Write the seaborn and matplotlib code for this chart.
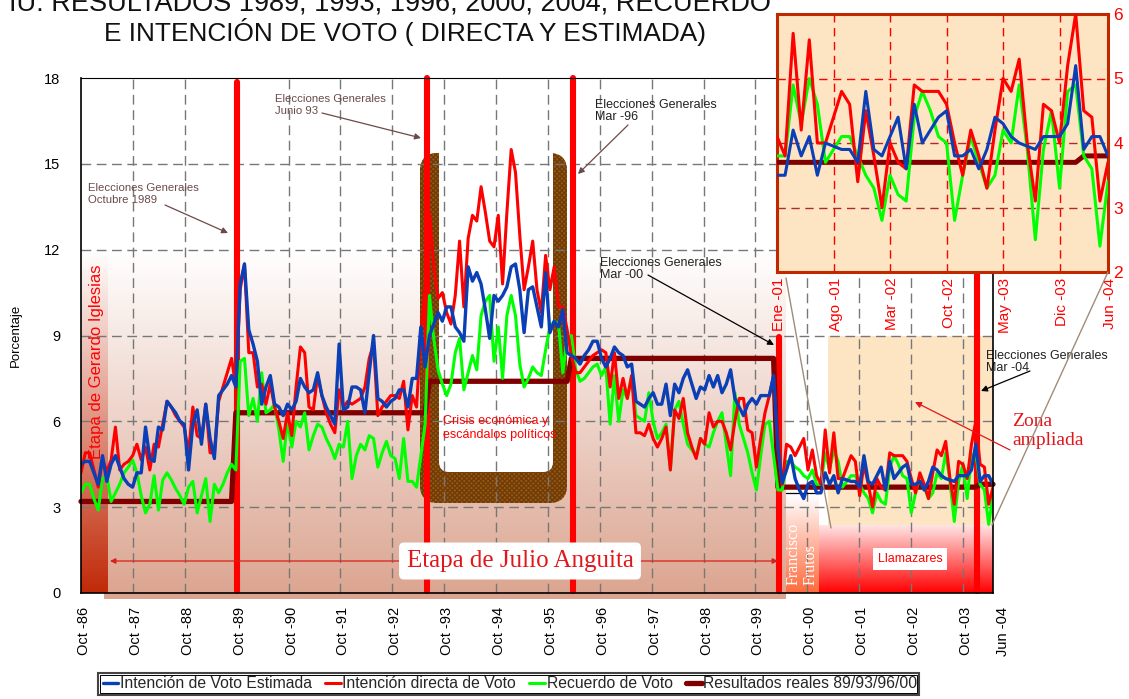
import matplotlib
matplotlib.use("Agg")

import numpy as np
import pandas as pd
import matplotlib.pyplot as plt
import matplotlib.transforms as mtransforms
import seaborn as sns
from matplotlib.colors import LinearSegmentedColormap
from matplotlib.lines import Line2D
from matplotlib.patches import FancyBboxPatch, Rectangle

# monthly readings, Oct-86 to Dec-00
estimada_hist = [
    4.5, 4.6, 4.6, 4.2, 3.8, 4.8, 3.9, 4.5, 4.8, 4.4,
    4.0, 3.8, 3.7, 4.2, 4.2, 5.8, 4.7, 4.6, 5.8, 5.7,
    6.7, 6.5, 6.3, 6.0, 5.9, 4.3, 5.9, 6.4, 5.2, 6.6,
    5.4, 4.7, 6.9, 7.1, 7.3, 7.6, 7.2, 10.8, 11.5, 9.2,
    8.7, 8.1, 6.6, 7.2, 7.6, 6.6, 6.5, 6.2, 6.6, 6.4,
    6.7, 7.5, 7.2, 7.0, 7.1, 7.7, 6.9, 6.5, 6.2, 5.9,
    8.7, 6.4, 6.5, 7.2, 7.2, 7.1, 6.3, 7.7, 9.0, 6.8,
    6.7, 6.5, 6.7, 6.8, 7.1, 7.1, 6.5, 7.5, 7.5, 9.3,
    7.9, 9.0, 9.4, 9.8, 9.5, 10.0, 10.0, 9.3, 9.1, 8.8,
    11.4, 10.9, 11.2, 10.8, 9.9, 8.9, 10.4, 10.2, 10.4, 10.7,
    11.4, 11.5, 10.6, 9.1, 10.6, 10.7, 10.0, 9.3, 11.2, 9.1,
    9.5, 9.3, 9.9, 8.4, 8.3, 8.2, 8.0, 8.3, 8.5, 8.8,
    8.8, 8.2, 7.9, 8.2, 8.6, 8.4, 8.3, 7.9, 8.0, 6.7,
    6.6, 6.5, 6.8, 7.0, 6.6, 6.6, 7.3, 6.2, 7.3, 7.0,
    7.5, 7.8, 7.3, 6.8, 7.2, 7.1, 7.6, 7.2, 7.6, 7.0,
    7.3, 7.8, 6.8, 6.5, 6.2, 6.6, 6.8, 6.6, 6.9, 6.9,
    6.9, 7.6, 5.1, 3.85, 4.3, 4.8, 4.0, 3.6, 3.3, 3.8,
    3.9,
]
directa_hist = [
    4.2, 4.9, 4.9, 4.3, 3.7, 4.65, 4.25, 4.65, 5.8, 4.3,
    4.5, 4.6, 4.8, 5.2, 4.65, 5.1, 4.3, 5.2, 5.1, 5.9,
    6.7, 6.5, 6.2, 6.0, 5.8, 4.9, 6.5, 5.5, 5.4, 6.6,
    4.9, 4.9, 6.7, 7.2, 7.7, 8.2, 7.2, 10.6, 11.5, 8.4,
    8.4, 7.2, 7.3, 6.6, 7.3, 6.5, 6.0, 5.4, 6.3, 5.5,
    7.2, 8.6, 8.4, 6.5, 6.4, 7.6, 6.9, 6.3, 5.9, 5.6,
    7.1, 6.5, 6.7, 6.6, 6.7, 6.8, 7.2, 8.2, 8.7, 6.2,
    6.5, 6.7, 6.9, 6.9, 6.8, 7.4, 5.7, 6.9, 6.5, 9.0,
    10.7, 13.3, 11.4, 10.3, 10.5, 9.8, 9.4, 10.4, 12.3, 10.0,
    12.4, 13.2, 13.0, 14.2, 13.3, 12.3, 12.1, 13.2, 10.8, 13.3,
    15.5, 14.7, 12.5, 10.6, 11.4, 12.3, 10.6, 9.8, 11.8, 10.6,
    11.4, 10.0, 10.0, 9.2, 8.3, 7.7, 7.7, 7.9, 8.1, 8.3,
    8.4, 8.5, 8.4, 7.2, 8.4, 6.8, 7.5, 6.8, 7.6, 5.6,
    5.6, 5.5, 5.9, 5.4, 5.1, 5.4, 5.8, 4.3, 6.4, 6.1,
    6.8, 5.6, 5.1, 4.7, 5.4, 5.2, 6.3, 5.8, 6.0, 6.0,
    5.6, 5.0, 6.0, 6.8, 6.8, 5.7, 5.6, 4.4, 5.4, 6.3,
    6.9, 7.6, 5.1, 3.8, 5.2, 5.1, 4.8, 5.1, 5.4, 4.3,
    5.0,
]
recuerdo_hist = [
    3.5, 3.8, 3.8, 3.3, 2.9, 4.0, 4.1, 3.2, 3.5, 3.8,
    4.2, 4.4, 4.65, 4.2, 3.4, 2.8, 3.1, 4.1, 2.9, 3.95,
    4.2, 3.95, 3.65, 3.4, 3.1, 3.7, 3.9, 2.8, 3.4, 4.0,
    2.5, 3.8, 3.5, 3.8, 4.2, 4.5, 4.3, 8.1, 8.2, 6.2,
    6.8, 6.0, 7.7, 6.3, 6.4, 6.6, 5.7, 4.6, 6.0, 5.1,
    6.0, 5.8, 6.3, 5.0, 5.5, 5.9, 5.8, 5.4, 5.1, 4.7,
    5.2, 5.1, 6.0, 4.0, 4.8, 5.2, 5.0, 5.5, 5.4, 4.4,
    4.9, 5.3, 4.8, 4.7, 4.0, 5.4, 3.9, 3.9, 3.7, 4.8,
    5.9, 10.4, 8.9, 7.8, 7.3, 6.9, 7.3, 8.4, 8.9, 7.1,
    7.7, 8.3, 7.8, 9.7, 10.2, 10.4, 8.1, 9.3, 7.5, 9.7,
    10.4, 9.7, 8.0, 7.2, 7.5, 7.9, 7.7, 7.6, 8.5, 9.3,
    9.5, 9.4, 7.7, 8.9, 9.0, 7.8, 7.4, 7.5, 7.7, 7.9,
    8.0, 7.6, 7.9, 5.9, 7.6, 6.0, 7.1, 6.8, 7.6, 6.2,
    6.1, 6.0, 7.0, 6.0, 5.4, 5.6, 5.9, 4.3, 6.4, 6.7,
    5.9, 5.2, 5.0, 4.8, 5.4, 5.2, 5.1, 5.6, 6.0, 6.3,
    5.2, 4.1, 7.0, 5.9, 5.4, 4.9, 4.2, 3.6, 4.8, 5.9,
    6.0, 4.8, 3.6, 3.6, 4.6, 4.6, 4.4, 4.3, 4.1, 4.0,
    4.3,
]

# the zoomed stretch, Jan-01 to Jun-04
estimada_zoom = [
    3.5, 3.5, 4.2, 3.8, 4.1, 3.5, 4.0, 3.95, 3.9, 3.9,
    3.7, 4.8, 3.9, 3.8, 4.1, 4.4, 3.6, 4.6, 4.0, 4.2,
    4.4, 4.5, 3.8, 3.8, 3.9, 3.6, 3.9, 4.4, 4.3, 4.1,
    4.0, 3.95, 3.9, 4.1, 4.1, 4.1, 4.3, 5.2, 3.9, 4.1,
    4.1, 3.8,
]
directa_zoom = [
    4.1, 3.8, 5.7, 4.2, 5.6, 4.0, 4.0, 4.4, 4.8, 4.6,
    3.4, 4.5, 3.8, 3.0, 4.0, 3.7, 3.6, 4.9, 4.8, 4.8,
    4.8, 4.6, 4.0, 3.5, 4.2, 3.8, 3.3, 4.2, 5.0, 4.8,
    5.3, 4.0, 3.1, 4.6, 4.5, 4.0, 5.2, 6.0, 4.5, 4.4,
    3.1, 3.7,
]
recuerdo_zoom = [
    3.8, 3.8, 4.9, 4.3, 5.0, 4.6, 3.7, 3.9, 4.1, 4.1,
    3.8, 3.5, 3.3, 2.8, 3.5, 3.2, 3.1, 4.4, 4.8, 4.5,
    4.1, 4.0, 2.8, 3.5, 4.1, 3.7, 3.3, 3.5, 4.2, 4.0,
    4.9, 3.9, 2.5, 3.9, 4.5, 3.3, 4.8, 4.9, 3.8, 3.6,
    2.4, 3.4,
]

# election results, as step corners
resultados_mes = [0, 35, 36, 80, 81, 113, 114, 161, 162, 208, 209, 212]
resultados_val = [3.2, 3.2, 6.3, 6.3, 7.4, 7.4, 8.2, 8.2, 3.7, 3.7, 3.8, 3.8]

elecciones_mes = [36.3, 80.5, 114.4, 162.3, 208.3]
elecciones_top = [17.85, 18.0, 18.0, 8.95, 11.2]

x_labels = ["Oct -86", "Oct -87", "Oct -88", "Oct -89", "Oct -90", "Oct -91",
            "Oct -92", "Oct -93", "Oct -94", "Oct -95", "Oct -96", "Oct -97",
            "Oct -98", "Oct -99", "Oct -00", "Oct -01", "Oct -02", "Oct -03",
            "Jun -04"]
y_ticks = [0, 3, 6, 9, 12, 15, 18]
zoom_labels = ["Ene -01", "Ago -01", "Mar -02", "Oct -02", "May -03", "Dic -03", "Jun -04"]
zoom_ticks = [0, 7, 14, 21, 28, 35, 41]
zoom_y_ticks = [2, 3, 4, 5, 6]

NOMBRES = ["Intención de Voto Estimada", "Intención directa de Voto",
           "Recuerdo de Voto", "Resultados reales 89/93/96/00"]
AZUL, ROJO, VERDE, GRANATE = "#0b3fb5", "#ff0000", "#00ff00", "#800000"
GRIS = "#777777"
MARRON = "#6b4a4a"

W, H = 1129, 699
L, R, T, B = 81, 993, 78, 593

sns.set_theme(style="white")
plt.rcParams["font.family"] = ["Liberation Sans", "DejaVu Sans"]

fig = plt.figure(figsize=(W / 100, H / 100), dpi=100)
ax = fig.add_axes([L / W, (H - B) / H, (R - L) / W, (B - T) / H])
px = mtransforms.Affine2D().scale(1, -1).translate(0, H)  # reference pixels -> display


def dx(p):
    return (p - L) / (R - L) * 212


def dy(p):
    return (B - p) / (B - T) * 18


def degradado(x0, x1, y0, y1, c0, c1, z):
    cmap = LinearSegmentedColormap.from_list("g", [c0, c1])
    ax.imshow(np.linspace(0, 1, 256).reshape(-1, 1), cmap=cmap, aspect="auto",
              extent=(dx(x0), dx(x1), dy(y1), dy(y0)), origin="upper",
              zorder=z, clip_on=False, interpolation="bilinear")


def nota(x, y, s, **kw):
    kw.setdefault("va", "center")
    kw.setdefault("clip_on", False)
    return ax.text(x, y, s, transform=px, **kw)


def flecha(x0, y0, x1, y1, color, lw=0.9):
    ax.annotate("", xy=(x1, y1), xytext=(x0, y0), xycoords=px, textcoords=px,
                annotation_clip=False, zorder=6,
                arrowprops=dict(arrowstyle="-|>", color=color, lw=lw,
                                mutation_scale=9, shrinkA=0, shrinkB=0))


# background bands
degradado(104, 786, 250, 599, "#ffffff", "#dba48f", 0.50)
degradado(81, 108, 250, 593, "#ffffff", "#c02a08", 0.51)
ax.add_patch(Rectangle((dx(786), dy(593)), dx(828) - dx(786), dy(340) - dy(593),
                       facecolor="white", edgecolor="none", zorder=0.52))
degradado(786, 819, 495, 593, "#ffffff", "#ff6a3c", 0.53)
ax.add_patch(Rectangle((dx(828), dy(525)), dx(993) - dx(828), dy(336) - dy(525),
                       facecolor="#fde5c3", edgecolor="none", zorder=0.54))
degradado(819, 993, 525, 593, "#ffe4e4", "#ff0000", 0.55)

# the brown U round the crisis years
ax.add_patch(FancyBboxPatch((435, 168), 117, 320, boxstyle="round,pad=15,rounding_size=18",
                            transform=px, facecolor="#9a5710", edgecolor="#6e3c08",
                            hatch="xxxxxxx", linewidth=0, zorder=0.7, clip_on=False))
ax.add_patch(FancyBboxPatch((447, 130), 98, 334, boxstyle="round,pad=8,rounding_size=10",
                            transform=px, facecolor="white", edgecolor="none",
                            zorder=0.8, clip_on=False))

ax.set_axisbelow(False)
for m in np.arange(1, 18) * 51.88 / (R - L) * 212:
    ax.axvline(m, color=GRIS, lw=1.0, dashes=(7, 4), zorder=1)
for v in y_ticks[1:-1]:
    ax.axhline(v, color=GRIS, lw=1.0, dashes=(7, 4), zorder=1)

ax.vlines(elecciones_mes, 0.08, elecciones_top, color=ROJO, lw=4.4, zorder=2,
          capstyle="round", clip_on=False)

meses = np.arange(len(estimada_hist) + len(estimada_zoom))
votos = pd.DataFrame({
    "mes": meses,
    NOMBRES[0]: estimada_hist + estimada_zoom,
    NOMBRES[1]: directa_hist + directa_zoom,
    NOMBRES[2]: recuerdo_hist + recuerdo_zoom,
})
res = pd.DataFrame({"mes": resultados_mes, NOMBRES[3]: resultados_val})

sns.lineplot(data=res, x="mes", y=NOMBRES[3], color=GRANATE, lw=3.8, ax=ax, zorder=3,
             label=NOMBRES[3], errorbar=None, solid_capstyle="round", clip_on=False)
sns.lineplot(data=votos, x="mes", y=NOMBRES[2], color=VERDE, lw=2.2, ax=ax, zorder=3.1,
             label=NOMBRES[2], errorbar=None)
sns.lineplot(data=votos, x="mes", y=NOMBRES[1], color=ROJO, lw=2.2, ax=ax, zorder=3.2,
             label=NOMBRES[1], errorbar=None)
sns.lineplot(data=votos, x="mes", y=NOMBRES[0], color=AZUL, lw=2.4, ax=ax, zorder=3.3,
             label=NOMBRES[0], errorbar=None)

ax.set_xlim(0, 212)
ax.set_ylim(0, 18)
tick_pos = [i * 51.88 / (R - L) * 212 for i in range(len(x_labels) - 1)] + [212]
ax.set_xticks(tick_pos)
ax.set_xticklabels(x_labels, rotation=90, fontsize=10.5, color="black")
ax.set_yticks(y_ticks)
ax.tick_params(axis="x", length=0, pad=10)
ax.tick_params(axis="y", length=0, pad=15, labelsize=10.5, colors="black")
ax.set_xlabel("")
ax.set_ylabel("Porcentaje", fontsize=9.5, color="black", labelpad=0)
ax.yaxis.set_label_coords((22 - L) / (R - L), 0.5)
for i, lab in enumerate(ax.get_xticklabels()):
    shift = 10 if i == len(x_labels) - 1 else 3
    lab.set_transform(lab.get_transform() + mtransforms.ScaledTranslation(shift / 100, 0, fig.dpi_scale_trans))
for s in ax.spines.values():
    s.set_color("black")
    s.set_linewidth(1.2)
    s.set_zorder(5)
ax.spines["top"].set_linewidth(0.8)

# annotations on the main chart
nota(88, 194, "Elecciones Generales\nOctubre 1989", fontsize=8.2, color=MARRON, linespacing=1.15)
flecha(165, 205, 228, 233, MARRON)
nota(275, 105, "Elecciones Generales\nJunio 93", fontsize=8.2, color=MARRON, linespacing=1.15)
flecha(322, 113, 421, 138, MARRON)
nota(595, 111, "Elecciones Generales\nMar -96", fontsize=9, color="#222222", linespacing=1.1)
flecha(628, 125, 578, 174, MARRON)
nota(600, 269, "Elecciones Generales\nMar -00", fontsize=9, color="#222222", linespacing=1.1)
flecha(648, 275, 774, 345, "black")
nota(986, 362, "Elecciones Generales\nMar -04", fontsize=9, color="#222222", linespacing=1.1)
flecha(1030, 371, 981, 391, "black")

nota(96, 362, "Etapa de Gerardo Iglesias", fontsize=12, color=ROJO, rotation=90,
     ha="center", zorder=7)
nota(443, 428, "Crisis económica y\nescándalos políticos", fontsize=9, color=ROJO,
     linespacing=1.15, zorder=7)
nota(910, 559, "Llamazares", fontsize=9, color=ROJO, ha="center", zorder=7,
     bbox=dict(facecolor="white", edgecolor="none", pad=3.5))
for xp, s in zip([794, 811], ["Francisco", "Frutos"]):
    nota(xp, 585, s, fontsize=11.5, color="white", rotation=90, ha="center", va="bottom",
         family="Liberation Serif", zorder=7)

ax.plot([dx(786), dx(818)], [dy(493), dy(493)], color="black", lw=0.9, zorder=2.5)

ax.annotate("", xy=(110, 561), xytext=(400, 561), xycoords=px, textcoords=px, zorder=6,
            annotation_clip=False,
            arrowprops=dict(arrowstyle="-|>", color="#d8201a", lw=0.9, mutation_scale=8,
                            shrinkA=0, shrinkB=0))
ax.annotate("", xy=(778, 561), xytext=(640, 561), xycoords=px, textcoords=px, zorder=6,
            annotation_clip=False,
            arrowprops=dict(arrowstyle="-|>", color="#d8201a", lw=0.9, mutation_scale=8,
                            shrinkA=0, shrinkB=0))
nota(520, 561, "Etapa de Julio Anguita", fontsize=18, color="#e0181c", ha="center",
     family="Liberation Serif", zorder=7,
     bbox=dict(boxstyle="round,pad=0.3,rounding_size=0.2", facecolor="white", edgecolor="none"))

nota(1012, 431, "Zona\nampliada", fontsize=14, color="#e0181c", family="Liberation Serif",
     linespacing=1.15)
flecha(1010, 450, 915, 402, "#e0181c")

# legend
handles, labels = ax.get_legend_handles_labels()
order = [labels.index(n) for n in NOMBRES]
ax.get_legend().remove()
fig.add_artist(Rectangle((98, 673), 821, 22, transform=px, facecolor="white",
                         edgecolor="#444444", lw=1.5, zorder=3))
fig.add_artist(Rectangle((100, 675), 817, 18, transform=px, facecolor="none",
                         edgecolor="black", lw=0.7, zorder=3))
leg = fig.legend([handles[i] for i in order], NOMBRES, loc="center", ncol=4, frameon=False,
                 bbox_to_anchor=(510, 684), bbox_transform=px, fontsize=11.3,
                 handlelength=1.0, handletextpad=0.1, columnspacing=0.85, borderpad=0)
leg.set_zorder(4)

# inset with the zoomed stretch
IL, IR, IT, IB = 777, 1108, 14, 272
axz = fig.add_axes([IL / W, (H - IB) / H, (IR - IL) / W, (IB - IT) / H], zorder=5)
axz.set_facecolor("#fde5c3")
zoom_df = pd.DataFrame({
    "mes": np.arange(len(estimada_zoom)),
    "est": estimada_zoom,
    "dir": directa_zoom,
    "rec": recuerdo_zoom,
})
for m in zoom_ticks[1:-1]:
    axz.axvline(m, color=ROJO, lw=1.0, dashes=(6, 4), zorder=1)
axz.axhline(5, color=ROJO, lw=1.0, dashes=(6, 4), zorder=1)
axz.axhline(4, color="#b02a2a", lw=1.0, dashes=(6, 4), zorder=1)
axz.axhline(3, color="#b02a2a", lw=1.0, dashes=(6, 4), zorder=1)

res_tramo = res[res["mes"] >= 171 - 10].copy()
res_tramo["mes"] = res_tramo["mes"] - 171
sns.lineplot(data=res_tramo, x="mes", y=NOMBRES[3], color=GRANATE, lw=3.6, ax=axz, zorder=3,
             errorbar=None)
sns.lineplot(data=zoom_df, x="mes", y="rec", color=VERDE, lw=2.2, ax=axz, zorder=3.1, errorbar=None)
sns.lineplot(data=zoom_df, x="mes", y="dir", color=ROJO, lw=2.2, ax=axz, zorder=3.2, errorbar=None)
sns.lineplot(data=zoom_df, x="mes", y="est", color=AZUL, lw=2.2, ax=axz, zorder=3.3, errorbar=None)

axz.set_xlim(0, 41)
axz.set_ylim(2, 6)
axz.set_xticks(zoom_ticks)
axz.set_xticklabels(zoom_labels, rotation=90, fontsize=11, color=ROJO)
axz.set_yticks(zoom_y_ticks)
axz.yaxis.tick_right()
axz.tick_params(axis="y", length=0, pad=4, labelsize=12.5, labelcolor=ROJO, right=False)
axz.tick_params(axis="x", length=0, pad=4)
axz.set_xlabel("")
axz.set_ylabel("")
for lab in axz.get_xticklabels():
    lab.set_transform(lab.get_transform() + mtransforms.ScaledTranslation(2 / 100, 0, fig.dpi_scale_trans))
for s in axz.spines.values():
    s.set_color("#c02800")
    s.set_linewidth(2.2)

# connector lines between zone and inset
TAN = "#a08c78"
fig.add_artist(Line2D([786, 831], [278, 528], transform=px, color=TAN, lw=1.0, zorder=6))
fig.add_artist(Line2D([1108, 992], [272, 525], transform=px, color=TAN, lw=1.0, zorder=6))

fig.text(390, 3, "IU: RESULTADOS 1989, 1993, 1996, 2000, 2004, RECUERDO", transform=px,
         ha="center", va="center", fontsize=19.5, color="#111111")
fig.text(405, 32, "E INTENCIÓN DE VOTO ( DIRECTA Y ESTIMADA)", transform=px,
         ha="center", va="center", fontsize=18.9, color="#111111")

fig.savefig("out.png", dpi=100, facecolor="white")
